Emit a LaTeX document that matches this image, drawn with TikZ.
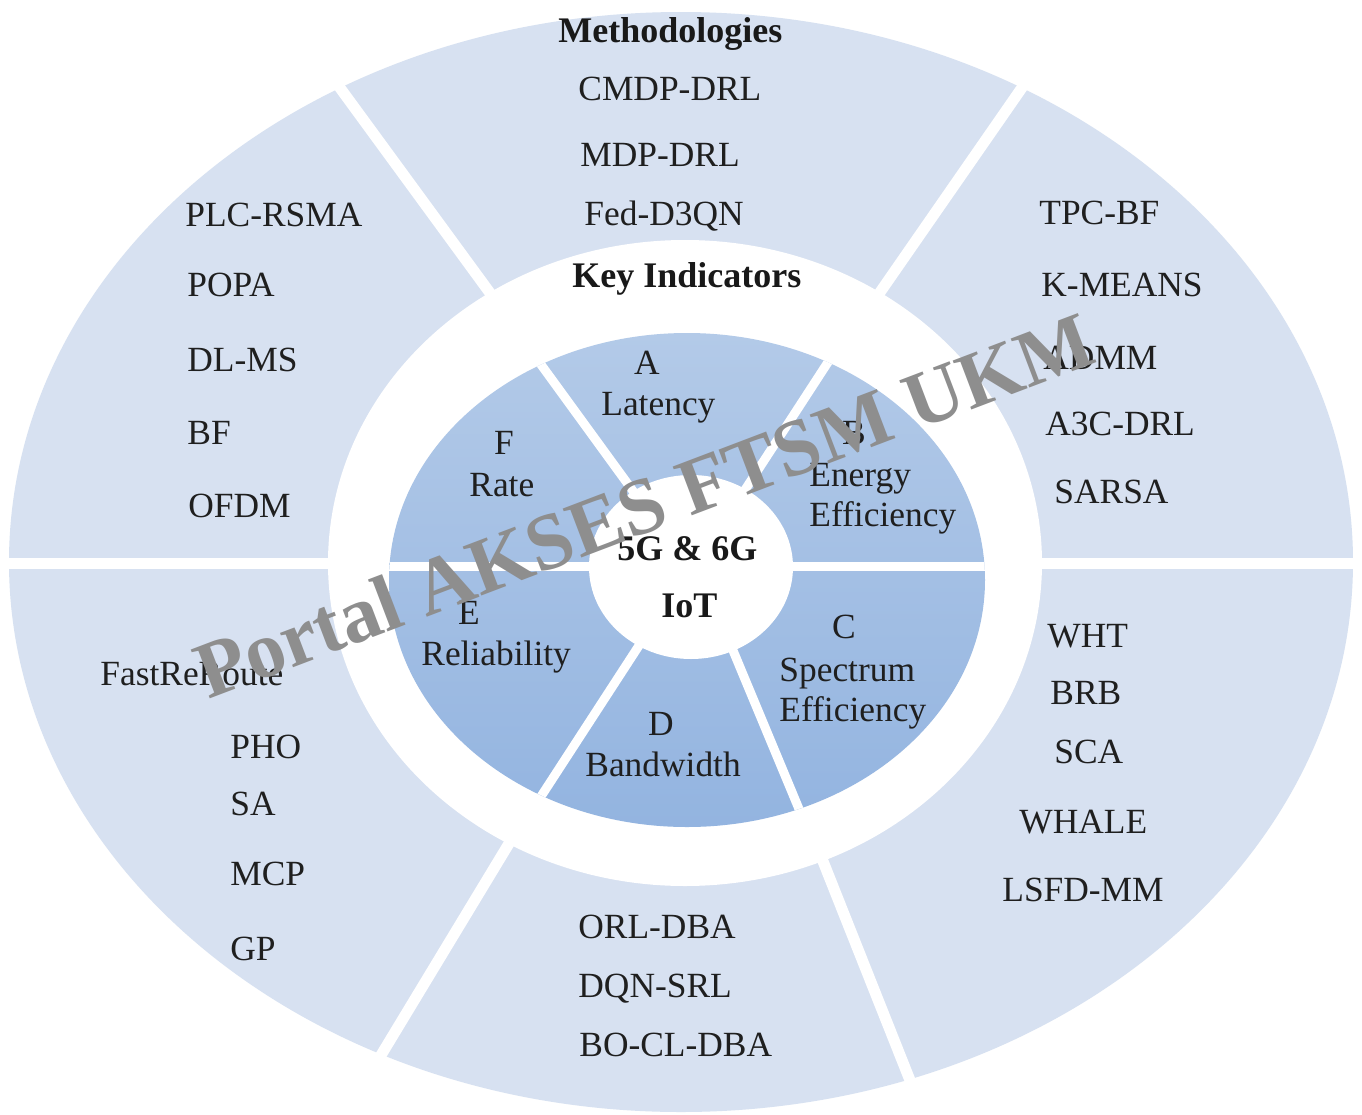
\documentclass[tikz,border=0pt]{standalone}
\usepackage{fontspec}
\setmainfont{Liberation Serif}
\definecolor{outerblue}{HTML}{D7E1F1}
\definecolor{innertop}{HTML}{B3CAE8}
\definecolor{innerbot}{HTML}{93B4E0}
\definecolor{wmgray}{HTML}{8E8E8E}
\begin{document}
\begin{tikzpicture}[x=0.5pt,y=-0.5pt,
  txt/.style={font=\fontsize{17.7}{20}\selectfont, inner sep=0pt, text=black!88},
  ttl/.style={font=\fontsize{18}{20}\selectfont\bfseries, inner sep=0pt, anchor=base west, text=black!90},
  lft/.style={txt, anchor=base west},
  ctr/.style={txt, anchor=base},
  osep/.style={draw=white, line width=5.5pt},
  isep/.style={draw=white, line width=4.5pt},
  wmark/.style={font=\fontsize{40}{42}\selectfont\bfseries, inner sep=0pt, text=wmgray, anchor=base west, rotate=20.8}
]
\useasboundingbox (0,0) rectangle (1362,1115);
\fill[white] (0,0) rectangle (1362,1115);
% outer ring
\fill[outerblue] (681,562) ellipse [x radius=672, y radius=550];
\draw[osep] (0,563) -- (1362,563);
\draw[osep] (324,66) -- (561,390);
\draw[osep] (1037,66) -- (815,386);
\draw[osep] (574,736) -- (366,1080);
\draw[osep] (780,753) -- (923,1113);
% white ring
\fill[white] (685,563) ellipse [x radius=357, y radius=323];
% inner disc
\shade[top color=innertop, bottom color=innerbot] (687,580) ellipse [x radius=298, y radius=247];
\begin{scope}
  \clip (687,580) ellipse [x radius=298, y radius=247];
  \draw[isep] (380,566) -- (1000,566);
  \draw[isep] (494,300) -- (665,535);
  \draw[isep] (871,296) -- (715,536);
  \draw[isep] (514,838) -- (666,604);
  \draw[isep] (819,857) -- (712,600);
\end{scope}
% centre
\fill[white] (691,567) ellipse [x radius=102, y radius=92];

% titles
\node[ttl] (meth) at (558,42) {Methodologies};
\node[ttl] (key) at (572,287) {Key Indicators};
\node[ttl] (g56) at (617,560) {5G \& 6G};
\node[ttl] (iot) at (661,617) {IoT};

% top segment
\node[lft] (t1) at (578,100) {CMDP-DRL};
\node[lft] (t2) at (580,166) {MDP-DRL};
\node[lft] (t3) at (584,225) {Fed-D3QN};
% top-left
\node[lft] (l1) at (185,226) {PLC-RSMA};
\node[lft] (l2) at (187,296) {POPA};
\node[lft] (l3) at (187,371) {DL-MS};
\node[lft] (l4) at (187,444) {BF};
\node[lft] (l5) at (188,517) {OFDM};
% top-right
\node[lft] (r1) at (1039,224) {TPC-BF};
\node[lft] (r2) at (1041,296) {K-MEANS};
\node[lft] (r3) at (1043,369) {ADMM};
\node[lft] (r4) at (1045,435) {A3C-DRL};
\node[lft] (r5) at (1054,503) {SARSA};
% bottom-left
\node[lft] (bl1) at (100,685) {FastReRoute};
\node[lft] (bl2) at (230,758) {PHO};
\node[lft] (bl3) at (230,815) {SA};
\node[lft] (bl4) at (230,885) {MCP};
\node[lft] (bl5) at (230,960) {GP};
% bottom
\node[lft] (b1) at (578,938) {ORL-DBA};
\node[lft] (b2) at (578,997) {DQN-SRL};
\node[lft] (b3) at (579,1056) {BO-CL-DBA};
% bottom-right
\node[lft] (br1) at (1047,647) {WHT};
\node[lft] (br2) at (1050,704) {BRB};
\node[lft] (br3) at (1054,763) {SCA};
\node[lft] (br4) at (1019,833) {WHALE};
\node[lft] (br5) at (1002,901) {LSFD-MM};

% key indicators
\node[ctr] (ka) at (647,374) {A};
\node[lft] (kal) at (601,415) {Latency};
\node[ctr] (kf) at (504,454) {F};
\node[lft] (kfl) at (469,496) {Rate};
\node[ctr] (kb) at (854,444) {B};
\node[lft] (kbl1) at (809,486) {Energy};
\node[lft] (kbl2) at (809,526) {Efficiency};
\node[ctr] (ke) at (469,624) {E};
\node[lft] (kel) at (421,665) {Reliability};
\node[ctr] (kc) at (844,638) {C};
\node[lft] (kcl1) at (779,681) {Spectrum};
\node[lft] (kcl2) at (779,721) {Efficiency};
\node[ctr] (kd) at (661,735) {D};
\node[lft] (kdl) at (585,776) {Bandwidth};

% watermark
\node[wmark] (wm) at (208,700) {Portal AKSES FTSM UKM};
\end{tikzpicture}
\end{document}
